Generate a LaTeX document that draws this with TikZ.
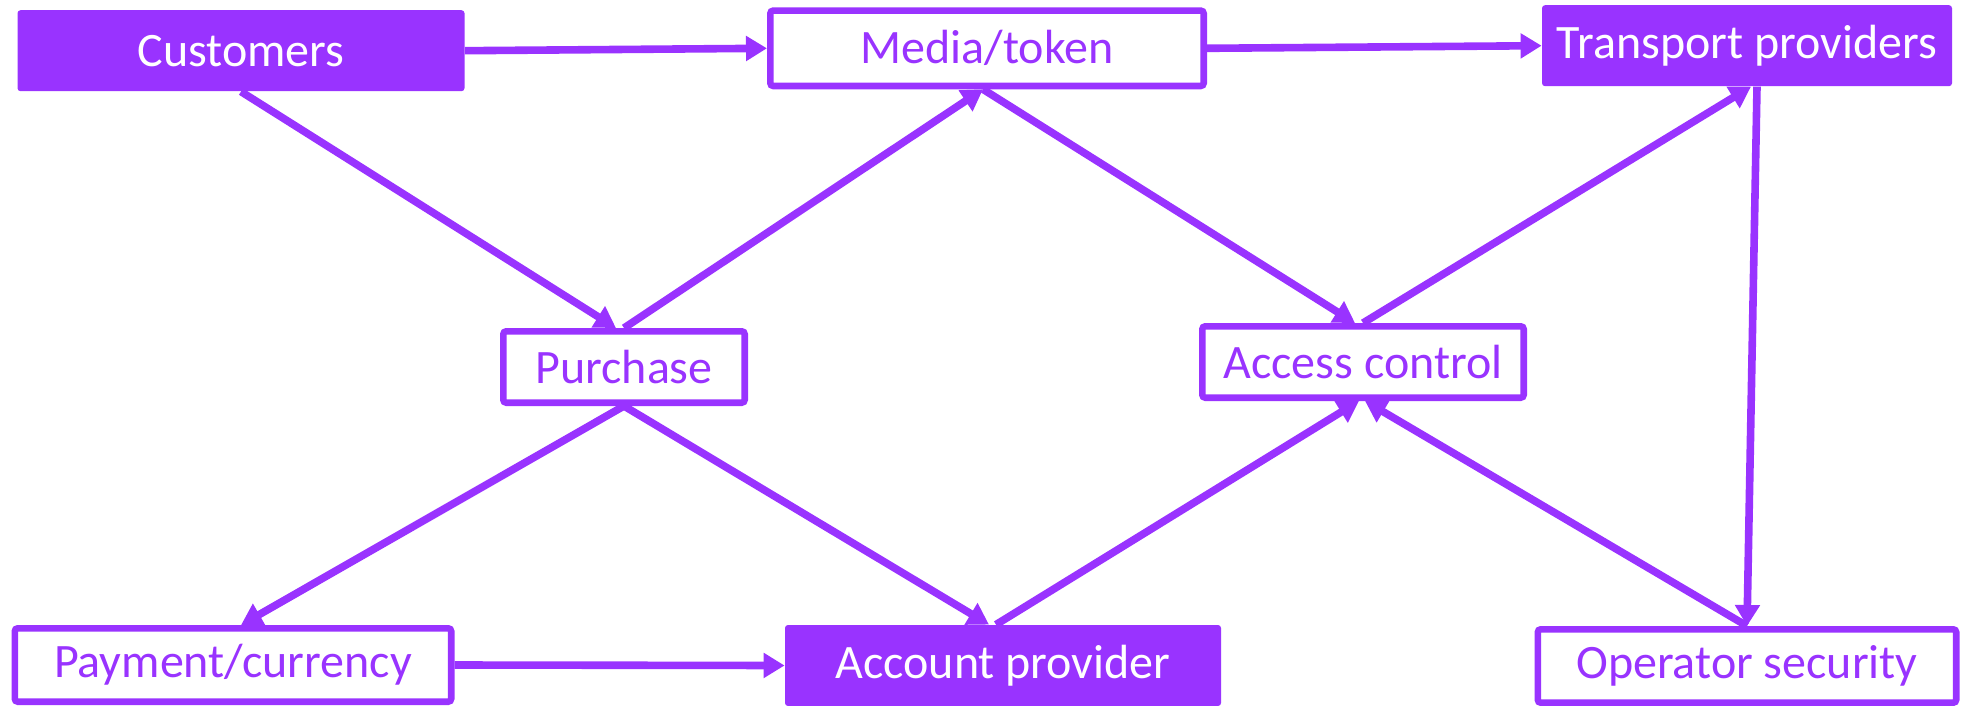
\documentclass[tikz,border=0pt]{standalone}
\usepackage{fontspec}
\setmainfont{Carlito}
\usetikzlibrary{arrows.meta,calc}
\definecolor{vio}{HTML}{9933FF}
\begin{document}
\begin{tikzpicture}[x=0.5pt,y=-0.5pt,
  every node/.style={font=\fontsize{24}{28}\selectfont, inner sep=0pt, rounded corners=1.5pt},
  filled/.style={fill=vio, text=white},
  outlined/.style={draw=vio, line width=3.3pt, fill=white, text=vio},
  conn/.style={draw=vio, line width=3.8pt, -{Triangle[length=10.5pt,width=12pt]}}]
\useasboundingbox (0,0) rectangle (1964,706);
\node[filled, minimum width=223.5pt, minimum height=40.5pt] (cust) at (241,50.7) {Customers};
\node[outlined, minimum width=216.7pt, minimum height=37.7pt] (media) at (987,48.3) {Media/token};
\node[filled, minimum width=205pt, minimum height=40.5pt] (trans) at (1747,45.7) {Transport providers};
\node[outlined, minimum width=120.7pt, minimum height=35.7pt] (purch) at (624,367) {Purchase};
\node[outlined, minimum width=160.7pt, minimum height=35.7pt] (acc) at (1363,362) {Access control};
\node[outlined, minimum width=218.2pt, minimum height=36.7pt] (pay) at (233,665) {Payment/currency};
\node[filled, minimum width=218pt, minimum height=40.5pt] (acct) at (1003,665.5) {Account provider};
\node[outlined, minimum width=209.2pt, minimum height=36.7pt] (oper) at (1747,666) {Operator security};
\draw[conn] (cust.east) -- (media.west);
\draw[conn] (media.east) -- (trans.west);
\draw[conn] (cust.south) -- ([xshift=-4pt]purch.north);
\draw[conn] (purch.north) -- ([xshift=-2pt]media.south);
\draw[conn] ([xshift=-2pt]media.south) -- ([xshift=-4pt]acc.north);
\draw[conn] (acc.north) -- ([xshift=2pt]trans.south);
\draw[conn] ([xshift=5pt]trans.south) -- (oper.north);
\draw[conn] (oper.north) -- ([xshift=1pt]acc.south);
\draw[conn] ([xshift=-3.5pt]acct.north) -- ([xshift=-2pt]acc.south);
\draw[conn] (purch.south) -- ([xshift=-7pt]acct.north);
\draw[conn] (purch.south) -- ([xshift=4pt]pay.north);
\draw[conn] (pay.east) -- (acct.west);
\end{tikzpicture}
\end{document}
